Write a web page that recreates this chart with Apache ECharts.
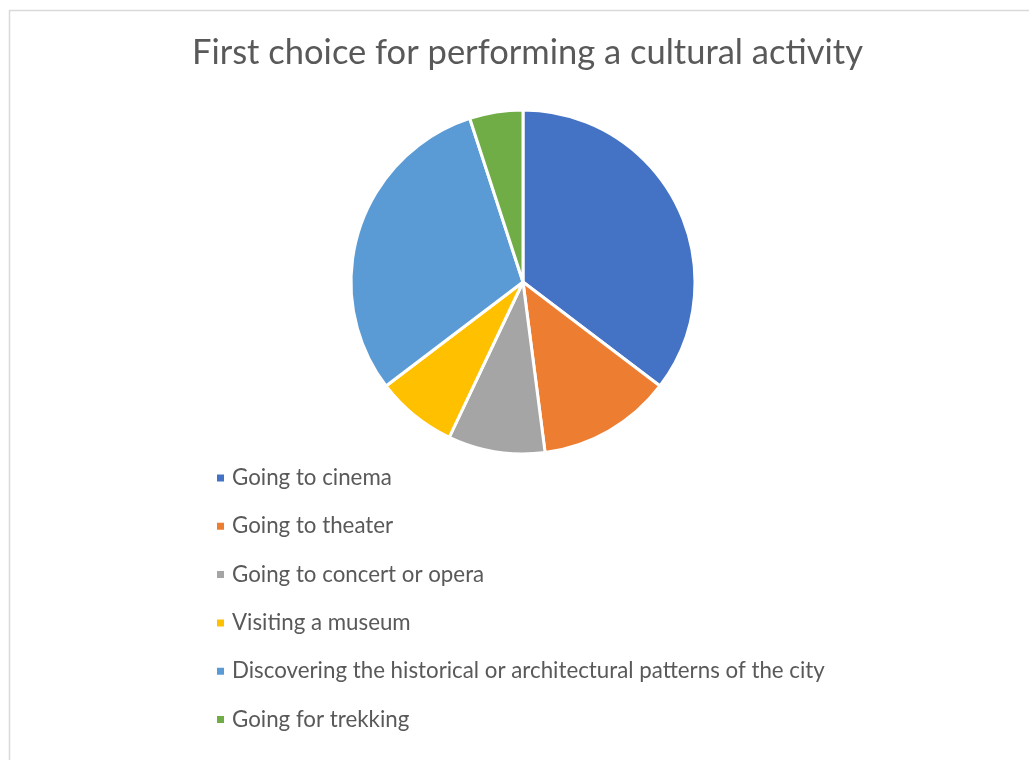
<!DOCTYPE html>
<html><head><meta charset="utf-8">
<script src="https://cdn.jsdelivr.net/npm/echarts@6/dist/echarts.min.js"></script>
<style>html,body{margin:0;padding:0;background:#fff}#c{width:1029px;height:760px}</style>
</head><body><div id="c"></div>
<script>
const categories = ["Going to cinema","Going to theater","Going to concert or opera","Visiting a museum","Discovering the historical or architectural patterns of the city","Going for trekking"];
const values = [35.3, 12.6, 9.1, 7.6, 30.3, 5.0];
const colors = ["#4472C4","#ED7D31","#A5A5A5","#FFC000","#5B9BD5","#70AD47"];
const chart = echarts.init(document.getElementById('c'));
chart.setOption({
  animation:false,
  color: colors,
  graphic:[{type:'rect',shape:{x:9.5,y:10.5,width:1040,height:770},style:{fill:'none',stroke:'#d9d9d9',lineWidth:1.5},silent:true}],
  title:{text:'First choice for performing a cultural activity',left:187,top:30,
    textStyle:{fontFamily:'Lato',fontSize:34.5,fontWeight:'normal',color:'#595959'}},
  legend:{orient:'vertical',left:210,top:462,itemWidth:9,itemHeight:9,icon:'rect',itemGap:26.3,
    data:categories,
    textStyle:{fontFamily:'Lato',fontSize:22.3,color:'#595959',lineHeight:22,padding:[0,0,0,2]}},
  series:[{type:'pie',center:[523,282],radius:172,startAngle:90,clockwise:true,
    label:{show:false},labelLine:{show:false},
    itemStyle:{borderColor:'#fff',borderWidth:3},
    data:categories.map((n,i)=>({name:n,value:values[i]}))}]
});
</script></body></html>
